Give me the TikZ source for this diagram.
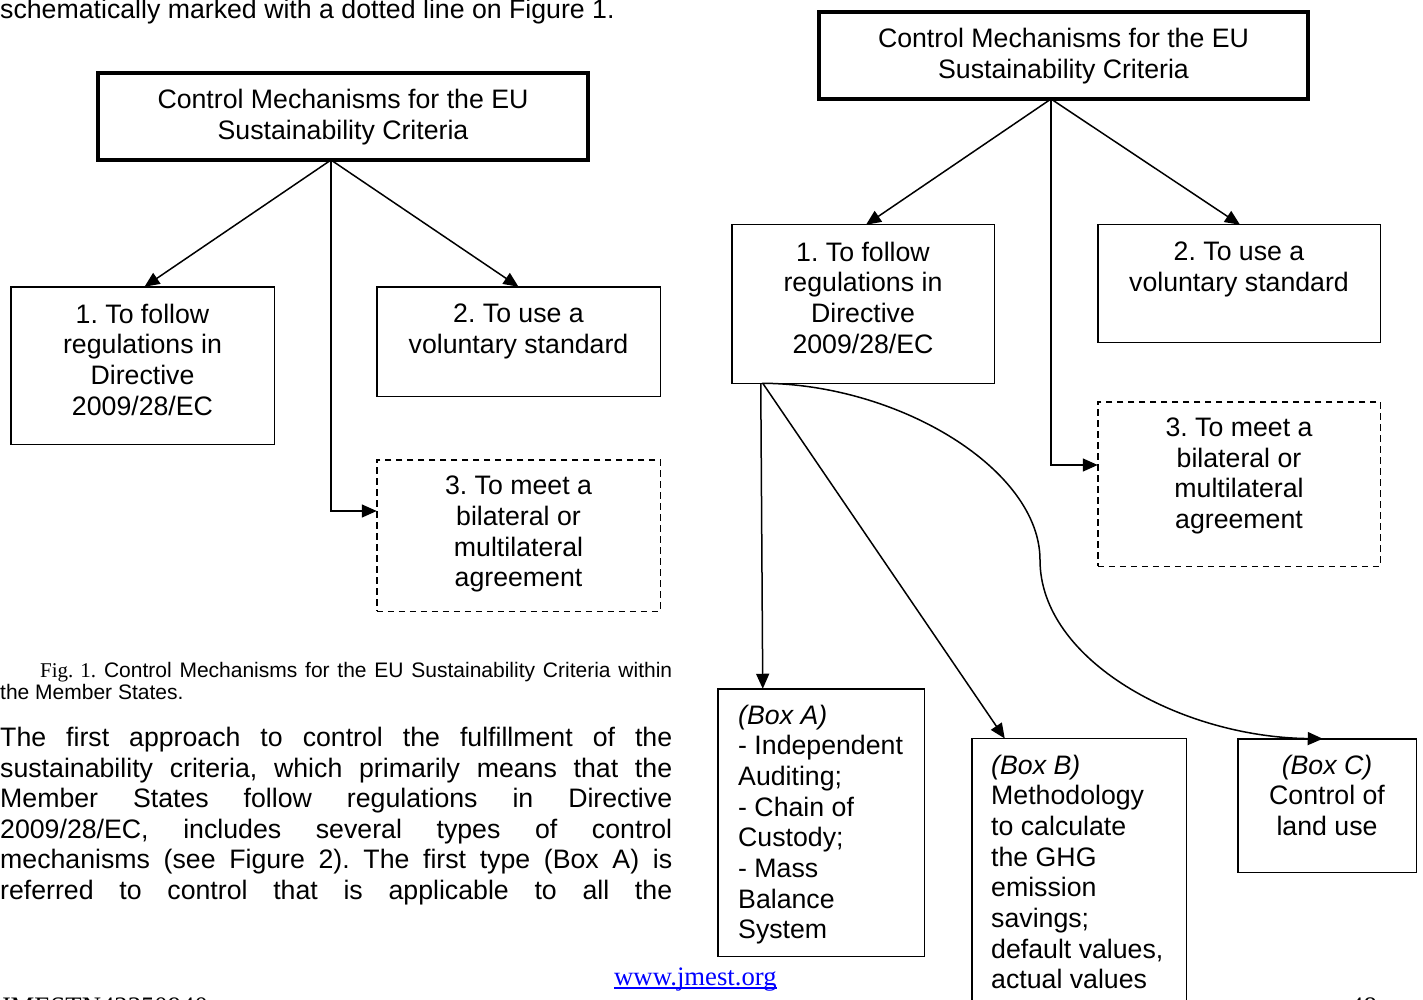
\documentclass[tikz,border=0pt]{standalone}
\usepackage{fontspec}
\setmainfont{Liberation Sans}
\newfontfamily\tnr{Liberation Serif}
\usetikzlibrary{arrows.meta}
\frenchspacing
\begin{document}
\begin{tikzpicture}[x=1pt,y=-1pt,
  box/.style={draw, line width=1.5pt, inner sep=0pt, outer sep=0pt},
  bigbox/.style={draw, line width=4pt, inner sep=0pt, outer sep=0pt},
  dbox/.style={box, dash pattern=on 6.5pt off 4.5pt},
  ctxt/.style={inner sep=0pt, align=center, anchor=north, font=\fontsize{26.7}{30.7}\selectfont},
  ltxt/.style={inner sep=0pt, align=left, anchor=north west, font=\fontsize{26.7}{30.7}\selectfont},
  body/.style={inner sep=0pt, anchor=base west, align=left, font=\fontsize{26.7}{30.5}\selectfont},
  conn/.style={line width=1.5pt, -{Triangle[length=15pt,width=13pt]}},
]
\useasboundingbox (0,0) rectangle (1423,1000);
\clip (0,0) rectangle (1423,1000);

% ---------- running text ----------
\node[body] (top) at (0,18.5) {schematically marked with a dotted line on Figure 1.};

\node[inner sep=0pt, anchor=base west, font=\fontsize{21}{22}\selectfont] (cap1) at (40,677.5)
  {\makebox[632pt][s]{{\tnr Fig. 1.} Control Mechanisms for the EU Sustainability Criteria within}};
\node[inner sep=0pt, anchor=base west, font=\fontsize{21}{22}\selectfont] (cap2) at (0,699.5)
  {the Member States.};

% anchor base = baseline of the last line
\node[body] (para) at (0,899) {%
\makebox[672pt][s]{The first approach to control the fulfillment of the}\\
\makebox[672pt][s]{sustainability criteria, which primarily means that the}\\
\makebox[672pt][s]{Member States follow regulations in Directive}\\
\makebox[672pt][s]{2009/28/EC, includes several types of control}\\
\makebox[672pt][s]{mechanisms (see Figure 2). The first type (Box A) is}\\
\makebox[672pt][s]{referred to control that is applicable to all the}};

\node[inner sep=0pt, anchor=base west, text=blue, font=\tnr\fontsize{26.7}{30}\selectfont] (url) at (614,985) {www.jmest.org};
\draw[blue, line width=1.3pt] ([yshift=-3pt]url.base west) -- ([yshift=-3pt]url.base east);

\node[inner sep=0pt, anchor=base west, font=\tnr\fontsize{26.7}{30}\selectfont] (foot) at (0,1015.5) {JMESTN42350940};
\node[inner sep=0pt, anchor=base west, font=\tnr\fontsize{26.7}{30}\selectfont] (pg) at (1350,1015.5) {48};

% ---------- Figure 1 (left) ----------
\node[bigbox, minimum width=490pt, minimum height=87pt] (L0) at (343,116.5) {};
\node[ctxt] (L0t) at (343,89) {Control Mechanisms for the EU\\Sustainability Criteria};

\node[box, minimum width=263.5pt, minimum height=157.5pt] (L1) at (142.5,365.5) {};
\node[ctxt] (L1t) at (142.5,303.5) {1. To follow\\regulations in\\Directive\\2009/28/EC};

\node[box, minimum width=283.5pt, minimum height=109.5pt] (L2) at (518.5,341.5) {};
\node[ctxt] (L2t) at (518.5,303.5) {2. To use a\\voluntary standard};

\node[dbox, minimum width=283.5pt, minimum height=151.5pt] (L3) at (518.5,535.5) {};
\node[ctxt] (L3t) at (518.5,476) {3. To meet a\\bilateral or\\multilateral\\agreement};

\draw[conn] ([xshift=-12pt]L0.south) -- ([xshift=2pt]L1.north);
\draw[conn] ([xshift=-12pt]L0.south) -- (L2.north);
\draw[conn] ([xshift=-12pt]L0.south) |- ([yshift=24.5pt]L3.west);

% ---------- Figure 2 (right) ----------
\node[bigbox, minimum width=489pt, minimum height=87pt] (R0) at (1063.5,55.5) {};
\node[ctxt] (R0t) at (1063.5,28) {Control Mechanisms for the EU\\Sustainability Criteria};

\node[box, minimum width=262.5pt, minimum height=158.5pt] (R1) at (863,304) {};
\node[ctxt] (R1t) at (863,241.5) {1. To follow\\regulations in\\Directive\\2009/28/EC};

\node[box, minimum width=282.5pt, minimum height=117.5pt] (R2) at (1239,283.5) {};
\node[ctxt] (R2t) at (1239,241.5) {2. To use a\\voluntary standard};

\node[dbox, minimum width=282.5pt, minimum height=164.5pt] (R3) at (1239,484) {};
\node[ctxt] (R3t) at (1239,417.5) {3. To meet a\\bilateral or\\multilateral\\agreement};

\node[box, minimum width=206.5pt, minimum height=267.5pt] (A) at (821,822.5) {};
\node[ltxt] (At) at (738,704.5) {\textit{(Box A)}\\- Independent\\Auditing;\\- Chain of\\Custody;\\- Mass\\Balance\\System};

\node[box, minimum width=214.5pt, minimum height=290.5pt] (B) at (1079,883.75) {};
\node[ltxt] (Bt) at (991,754.5) {\textit{(Box B)}\\Methodology\\to calculate\\the GHG\\emission\\savings;\\default values,\\actual values};

\node[box, minimum width=178.5pt, minimum height=133.5pt] (C) at (1327,805.5) {};
\node[ctxt] (Ct) at (1327,754.5) {\textit{(Box C)}\\Control of\\land use};

\draw[conn] ([xshift=-12.5pt]R0.south) -- ([xshift=3pt]R1.north);
\draw[conn] ([xshift=-12.5pt]R0.south) -- ([xshift=1pt]R2.north);
\draw[conn] ([xshift=-12.5pt]R0.south) |- ([yshift=19pt]R3.west);

\draw[conn] ([xshift=29pt]R1.south west) -- ([xshift=45pt]A.north west);
\draw[conn] ([xshift=31pt]R1.south west) -- ([xshift=33pt]B.north west);
\draw[conn] ([xshift=30pt]R1.south west) .. controls (900,384) and (1040,470) .. (1040,560)
  .. controls (1040,660) and (1180,737) .. ([xshift=85pt]C.north west);
\end{tikzpicture}
\end{document}
